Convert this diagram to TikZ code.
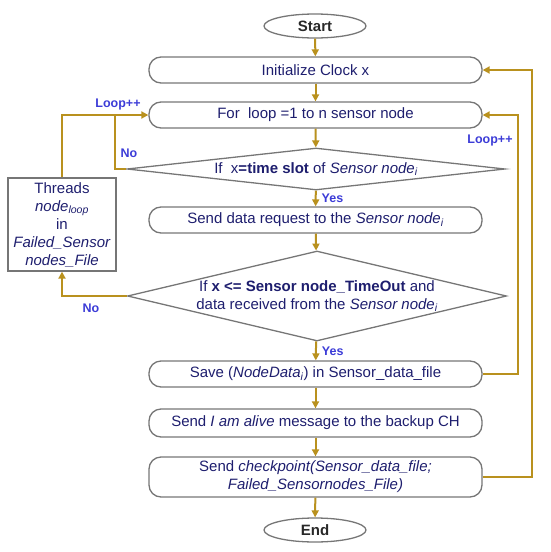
\documentclass[tikz,border=0pt]{standalone}
\usepackage{fontspec}
\setmainfont{Liberation Sans}
\usetikzlibrary{shapes.geometric,arrows.meta}

\tikzset{
  stepbox/.style={draw={rgb,255:red,118;green,118;blue,118}, line width=1.3pt, rounded corners=12pt,
    minimum width=333pt, minimum height=26pt, inner sep=0pt, align=center},
  term/.style={ellipse, draw={rgb,255:red,118;green,118;blue,118}, line width=1.3pt,
    minimum width=102pt, minimum height=24pt, inner sep=0pt,
    font=\bfseries\fontsize{15}{18}\selectfont, text={rgb,255:red,40;green,40;blue,40}},
  test/.style={diamond, draw={rgb,255:red,118;green,118;blue,118}, line width=1.3pt,
    inner sep=-4pt, align=center},
  flow/.style={draw={rgb,255:red,185;green,145;blue,30}, line width=2pt, -{Triangle[length=7pt,width=7pt]}},
  link/.style={draw={rgb,255:red,185;green,145;blue,30}, line width=2pt},
  tag/.style={font=\bfseries\fontsize{12.5}{14}\selectfont, text={rgb,255:red,60;green,60;blue,215}, inner sep=1pt}
}

\begin{document}
\begin{tikzpicture}[x=1pt, y=-1pt, font=\fontsize{15}{18}\selectfont,
  every node/.append style={text={rgb,255:red,30;green,30;blue,110}}]
\useasboundingbox (0,0) rectangle (550,552);

% main column
\node[term] (start) at (315,26) {Start};
\node[stepbox] (init) at (315.5,70) {Initialize Clock x};
\node[stepbox] (loop) at (315.5,115) {For\ \ loop =1 to n sensor node};
\node[test, aspect=9, minimum width=378pt, minimum height=42pt] (d1) at (316,169)
  {If\ \ x\textbf{=time slot} of \textit{Sensor node\textsubscript{i}}};
\node[stepbox] (req) at (315.5,220) {Send data request to the \textit{Sensor node\textsubscript{i}}};
\node[test, aspect=4.2, minimum width=379pt, minimum height=90pt] (d2) at (317,296)
  {If \textbf{x <= Sensor node\_TimeOut} and\\data received from the \textit{Sensor node\textsubscript{i}}};
\node[stepbox] (save) at (315.5,374) {Save (\textit{NodeData\textsubscript{i}}) in Sensor\_data\_file};
\node[stepbox, minimum height=28pt] (alive) at (315.5,423) {Send \textit{I am alive} message to the backup CH};
\node[stepbox, minimum height=40pt] (ckpt) at (315.5,477)
  {Send \textit{checkpoint(Sensor\_data\_file;}\\\textit{Failed\_Sensornodes\_File)}};
\node[term] (end) at (315,530) {End};

% failed node box
\node[draw={rgb,255:red,118;green,118;blue,118}, line width=1.3pt, minimum width=108pt, minimum height=93pt,
  inner sep=0pt, align=center] (threads) at (62,224.5)
  {Threads\\\textit{node\textsubscript{loop}}\\in\\\textit{Failed\_Sensor}\\\textit{nodes\_File}};

\draw[flow] (start) -- (init);
\draw[flow] (init) -- (loop);
\draw[flow] (loop) -- (d1);
\draw[flow] (d1) -- node[tag, right=4pt] {Yes} (req);
\draw[flow] (req) -- (d2);
\draw[flow] (d2) -- node[tag, right=4pt] {Yes} (save);
\draw[flow] (save) -- (alive);
\draw[flow] (alive) -- (ckpt);
\draw[flow] (ckpt) -- (end);

% left loop
\coordinate (jn) at (115,115);
\draw[link] (d1.west) -| (jn);
\draw[flow] (threads.north) |- (loop.west);
\draw[flow] (d2.west) -| (threads.south);
\node[tag] (inc1) at (118,104) {Loop++};
\node[tag] (no1) at (129,153) {No};
\node[tag] (no2) at (91,308) {No};

% right loops
\coordinate (r1) at (518,374);
\coordinate (r2) at (532,477);
\draw[flow] (save.east) -- (r1) |- (loop.east);
\draw[flow] (ckpt.east) -- (r2) |- (init.east);
\node[tag] (inc2) at (490,140) {Loop++};

\end{tikzpicture}
\end{document}
